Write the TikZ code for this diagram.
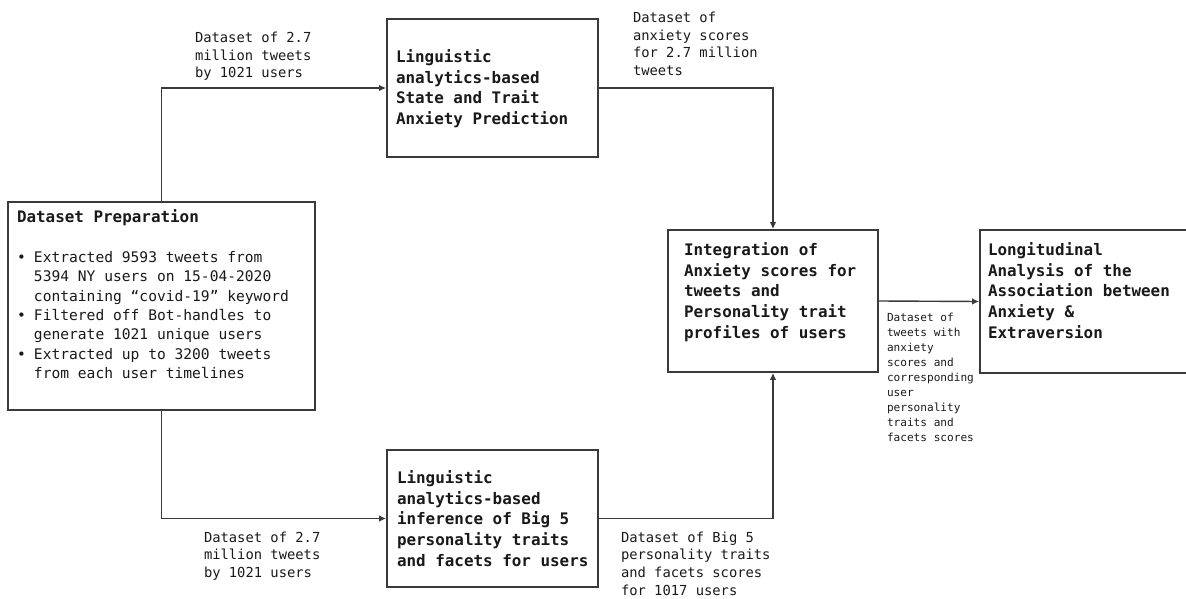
\documentclass[tikz,border=0pt]{standalone}
\usepackage{fontspec}
\setmonofont{DejaVu Sans Mono}
\usetikzlibrary{arrows.meta}
\definecolor{edge}{HTML}{3A3A3A}
\newcommand{\tfont}{\ttfamily\bfseries\fontsize{15.9}{20.7}\selectfont}
\newcommand{\bfont}{\ttfamily\fontsize{14.6}{19.3}\selectfont}
\newcommand{\lfont}{\ttfamily\fontsize{13.8}{17.7}\selectfont}
\newcommand{\sfont}{\ttfamily\fontsize{11.1}{15}\selectfont}
\newcommand{\txt}[2]{\parbox[t]{300pt}{#1\raggedright #2\par}}
\begin{document}
\begin{tikzpicture}[x=1pt,y=-1pt,
  boxn/.style={draw=edge,line width=1.7pt,rectangle,inner sep=0pt},
  tx/.style={anchor=base west,inner sep=0pt,outer sep=0pt,text=black!90},
  arr/.style={draw=edge,line width=1.4pt,-{Latex[length=7pt,width=6.5pt]}}]
\useasboundingbox (0,0) rectangle (1186,599);
% boxes
\node[boxn,minimum width=307pt,minimum height=208pt] (b1) at (161.5,306) {};
\node[boxn,minimum width=211pt,minimum height=138pt] (b2) at (492.5,88) {};
\node[boxn,minimum width=211pt,minimum height=137pt] (b3) at (492.5,518.5) {};
\node[boxn,minimum width=210pt,minimum height=142pt] (b4) at (773,301) {};
\node[boxn,minimum width=212pt,minimum height=143pt] (b5) at (1086,301.5) {};
% box texts
\node[tx] (t1) at (17,222) {\txt{\tfont}{Dataset Preparation}};
\node[tx] (t1b) at (17,262.5) {\txt{\bfont}{\makebox[17pt][l]{•}Extracted 9593 tweets from\\
\hspace*{17pt}5394 NY users on 15-04-2020\\
\hspace*{17pt}containing “covid-19” keyword\\
\makebox[17pt][l]{•}Filtered off Bot-handles to\\
\hspace*{17pt}generate 1021 unique users\\
\makebox[17pt][l]{•}Extracted up to 3200 tweets\\
\hspace*{17pt}from each user timelines}};
\node[tx] (t2) at (396,62.5) {\txt{\tfont}{Linguistic\\analytics-based\\State and Trait\\Anxiety Prediction}};
\node[tx] (t3) at (397,483.5) {\txt{\tfont}{Linguistic\\analytics-based\\inference of Big 5\\personality traits\\and facets for users}};
\node[tx] (t4) at (684,255.5) {\txt{\tfont}{Integration of\\Anxiety scores for\\tweets and\\Personality trait\\profiles of users}};
\node[tx] (t5) at (988,255.5) {\txt{\tfont}{Longitudinal\\Analysis of the\\Association between\\Anxiety \&\\Extraversion}};
% labels
\node[tx] (l1) at (195,42.5) {\txt{\lfont}{Dataset of 2.7\\million tweets\\by 1021 users}};
\node[tx] (l2) at (633,22.5) {\txt{\lfont}{Dataset of\\anxiety scores\\for 2.7 million\\tweets}};
\node[tx] (l3) at (204,542) {\txt{\lfont}{Dataset of 2.7\\million tweets\\by 1021 users}};
\node[tx] (l4) at (621,542) {\txt{\lfont}{Dataset of Big 5\\personality traits\\and facets scores\\for 1017 users}};
\node[tx] (l5) at (887,321.5) {\txt{\sfont}{Dataset of\\tweets with\\anxiety\\scores and\\corresponding\\user\\personality\\traits and\\facets scores}};
% connectors
\draw[arr] (b1.north) |- (b2.west);
\draw[arr] (b1.south) |- (b3.west);
\draw[arr] (b2.east) -| (b4.north);
\draw[arr] (b3.east) -| (b4.south);
\draw[arr] (b4.east) -- (b5.west);
\end{tikzpicture}
\end{document}
